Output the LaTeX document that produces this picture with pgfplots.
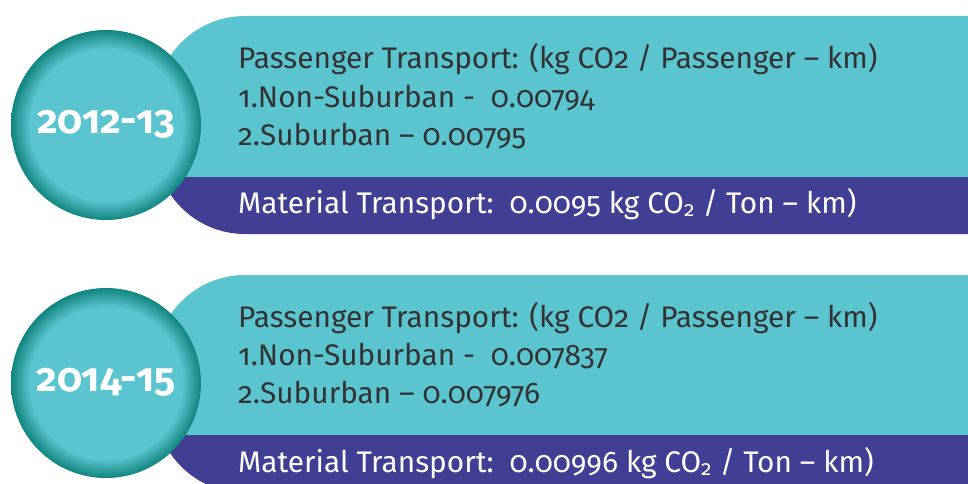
\documentclass[border=0pt]{standalone}
\usepackage{fontspec}
\setmainfont{Fira Sans}[Numbers=OldStyle]
\usepackage{pgfplots}
\pgfplotsset{compat=1.18}
\definecolor{cy}{HTML}{5BC5CF}
\definecolor{pu}{HTML}{403F94}
\definecolor{dk}{HTML}{10857E}
\definecolor{tx}{HTML}{333333}
\pgfdeclareradialshading{ball}{\pgfpoint{0bp}{0bp}}{color(0bp)=(cy); color(20bp)=(cy); color(25bp)=(dk); color(50bp)=(dk)}
\begin{document}
\begin{tikzpicture}
\begin{axis}[scale only axis, width=968pt, height=484pt, xmin=0, xmax=968, ymin=0, ymax=484, y dir=reverse, hide axis, clip=true]
\addplot[fill=white, draw=none] coordinates {(0,0) (968,0) (968,484) (0,484)} \closedcycle;
% panel 1
\begin{scope}
\clip[rounded corners=90pt] (axis cs:155,16) -- (axis cs:1200,16) -- (axis cs:1200,234) -- (axis cs:155,234) -- cycle;
\fill[cy] (axis cs:140,10) rectangle (axis cs:1200,177);
\fill[pu] (axis cs:140,177) rectangle (axis cs:1200,240);
\end{scope}
% panel 2
\begin{scope}
\clip[rounded corners=90pt] (axis cs:155,275) -- (axis cs:1200,275) -- (axis cs:1200,493) -- (axis cs:155,493) -- cycle;
\fill[cy] (axis cs:140,270) rectangle (axis cs:1200,435);
\fill[pu] (axis cs:140,435) rectangle (axis cs:1200,500);
\end{scope}
% circles
\shade[shading=ball] (axis cs:106,125) circle[radius=95pt];
\shade[shading=ball] (axis cs:106,383) circle[radius=95pt];
\node[anchor=base, text=white, font=\fontsize{40}{42}\selectfont\bfseries] at (axis cs:106,133) {2012-13};
\node[anchor=base, text=white, font=\fontsize{40}{42}\selectfont\bfseries] at (axis cs:106,391) {2014-15};
% texts panel 1
\node[anchor=base west, inner sep=0pt, text=tx, font=\fontsize{29.8}{32}\selectfont] at (axis cs:238,69) {Passenger Transport: (kg CO2 / Passenger – km)};
\node[anchor=base west, inner sep=0pt, text=tx, font=\fontsize{29.8}{32}\selectfont] at (axis cs:238,107) {1.Non-Suburban -\ \ 0.00794};
\node[anchor=base west, inner sep=0pt, text=tx, font=\fontsize{29.8}{32}\selectfont] at (axis cs:238,145) {2.Suburban – 0.00795};
\node[anchor=base west, inner sep=0pt, text=white, font=\fontsize{29.8}{32}\selectfont] at (axis cs:238,213) {Material Transport:\ \ 0.0095 kg CO\textsubscript{2} / Ton – km)};
% texts panel 2
\node[anchor=base west, inner sep=0pt, text=tx, font=\fontsize{29.8}{32}\selectfont] at (axis cs:238,327) {Passenger Transport: (kg CO2 / Passenger – km)};
\node[anchor=base west, inner sep=0pt, text=tx, font=\fontsize{29.8}{32}\selectfont] at (axis cs:238,365) {1.Non-Suburban -\ \ 0.007837};
\node[anchor=base west, inner sep=0pt, text=tx, font=\fontsize{29.8}{32}\selectfont] at (axis cs:238,403) {2.Suburban – 0.007976};
\node[anchor=base west, inner sep=0pt, text=white, font=\fontsize{29.8}{32}\selectfont] at (axis cs:238,472) {Material Transport:\ \ 0.00996 kg CO\textsubscript{2} / Ton – km)};
\end{axis}
\end{tikzpicture}
\end{document}
